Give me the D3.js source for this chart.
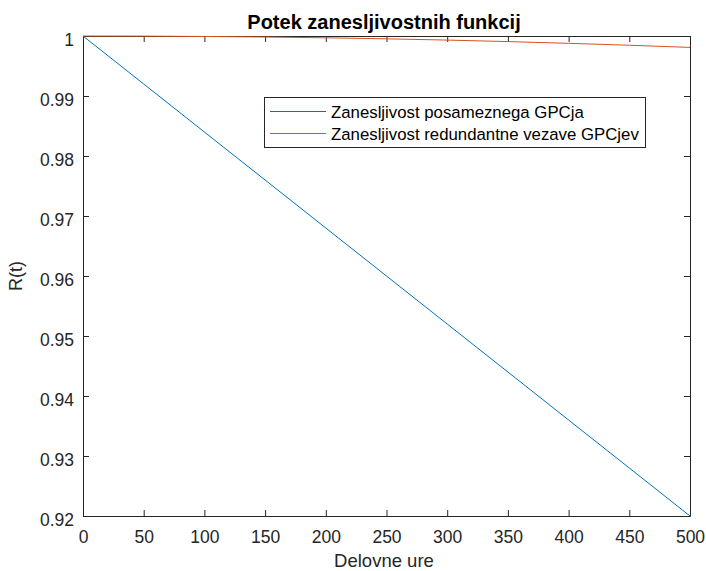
<!DOCTYPE html>
<html><head><meta charset="utf-8">
<script src="https://cdn.jsdelivr.net/npm/d3@7"></script>
<style>body{margin:0;background:#fff}svg{display:block}</style>
</head><body>
<script>
const hours = [0, 50, 100, 150, 200, 250, 300, 350, 400, 450, 500];
const singleGPC = [1, 0.992, 0.984, 0.976, 0.968, 0.960, 0.952, 0.944, 0.936, 0.928, 0.920];
const redundantGPC = [1, 0.99998, 0.99992, 0.99983, 0.9997, 0.99953, 0.99932, 0.99907, 0.99878, 0.99846, 0.9981];
const xTicks = [0, 50, 100, 150, 200, 250, 300, 350, 400, 450, 500];
const yTicks = [0.92, 0.93, 0.94, 0.95, 0.96, 0.97, 0.98, 0.99, 1];
const seriesNames = ["Zanesljivost posameznega GPCja", "Zanesljivost redundantne vezave GPCjev"];
const colors = ["#0072BD", "#D95319"];

const W = 706, H = 571;
const L = 83, R = 690, T = 36, B = 516;
const font = "'Liberation Sans', Arial, Helvetica, sans-serif";
const axCol = "#262626";
const tickFont = "17.5px";

const svg = d3.select("body").append("svg").attr("width", W).attr("height", H);
const x = d3.scaleLinear().domain([0, 500]).range([L, R]);
const y = d3.scaleLinear().domain([0.92, 1]).range([B, T]);

const g = svg.append("g");
const tl = 6;
const xb = g.append("g").attr("transform", `translate(0,${B})`)
  .call(d3.axisBottom(x).tickValues(xTicks).tickSizeInner(-tl).tickSizeOuter(0).tickFormat(d3.format("d")));
xb.selectAll(".tick text").attr("y", 27).attr("dy", 0);
const xt = g.append("g").attr("transform", `translate(0,${T})`)
  .call(d3.axisTop(x).tickValues(xTicks).tickSizeInner(-tl).tickSizeOuter(0).tickFormat(""));
const yl = g.append("g").attr("transform", `translate(${L},0)`)
  .call(d3.axisLeft(y).tickValues(yTicks).tickSizeInner(-tl).tickSizeOuter(0).tickFormat(d => d === 1 ? "1" : d3.format(".2f")(d)));
yl.selectAll(".tick text").attr("x", -9).attr("dy", 9);
const yr = g.append("g").attr("transform", `translate(${R},0)`)
  .call(d3.axisRight(y).tickValues(yTicks).tickSizeInner(-tl).tickSizeOuter(0).tickFormat(""));
[xb, xt, yl, yr].forEach(a => {
  a.selectAll("path.domain").attr("stroke", axCol).attr("stroke-width", 1);
  a.selectAll(".tick line").attr("stroke", axCol).attr("stroke-width", 1);
  a.selectAll("text").attr("fill", axCol).style("font-family", font).style("font-size", tickFont);
});

const series = [singleGPC, redundantGPC];
const line = d3.line().x((d, i) => x(hours[i])).y(d => y(d));
series.forEach((s, k) => {
  svg.append("path").datum(s).attr("d", line).attr("fill", "none")
    .attr("stroke", colors[k]).attr("stroke-width", 1);
});

svg.append("text").attr("x", 384).attr("y", 28.5).attr("text-anchor", "middle")
  .style("font-family", font).style("font-weight", "bold").style("font-size", "20px").attr("fill", "#000")
  .text("Potek zanesljivostnih funkcij");
svg.append("text").attr("x", 384).attr("y", 567).attr("text-anchor", "middle")
  .style("font-family", font).style("font-size", "18.5px").attr("fill", axCol).text("Delovne ure");
svg.append("text").attr("transform", `translate(22,${(T + B) / 2}) rotate(-90)`).attr("text-anchor", "middle")
  .style("font-family", font).style("font-size", "18px").attr("fill", axCol).text("R(t)");

const lg = svg.append("g");
lg.append("rect").attr("x", 264.5).attr("y", 97.5).attr("width", 381).attr("height", 50)
  .attr("fill", "#fff").attr("stroke", axCol).attr("stroke-width", 1);
seriesNames.forEach((n, k) => {
  const yy = 111.5 + k * 22;
  lg.append("line").attr("x1", 270).attr("x2", 326).attr("y1", yy).attr("y2", yy)
    .attr("stroke", colors[k]).attr("stroke-width", 1);
  lg.append("text").attr("x", 331).attr("y", yy + 6.5).style("font-family", font).style("font-size", "16.8px")
    .attr("fill", "#000").text(n);
});
</script>
</body></html>
